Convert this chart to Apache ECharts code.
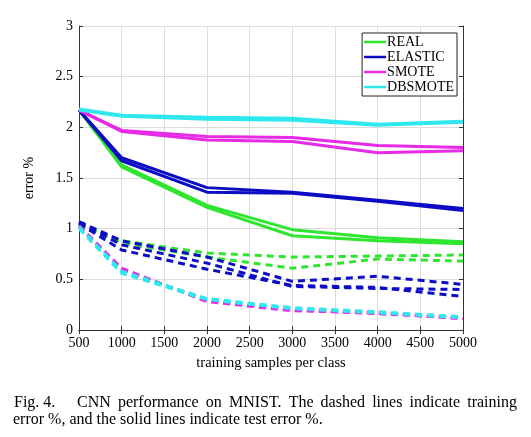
<!DOCTYPE html>
<html>
<head>
<meta charset="utf-8">
<script src="https://cdn.jsdelivr.net/npm/echarts@6/dist/echarts.min.js"></script>
<style>
html,body{margin:0;padding:0;background:#fff;}
#c{width:531px;height:437px;}
</style>
</head>
<body>
<div id="c"></div>
<script>
// x positions (training samples per class)
const samples = [500, 1000, 2000, 3000, 4000, 5000];
const methods = ['REAL', 'ELASTIC', 'SMOTE', 'DBSMOTE'];

// test error % (solid lines), two runs each
const realTestA    = [2.17, 1.63, 1.23, 0.99, 0.91, 0.87];
const realTestB    = [2.17, 1.61, 1.21, 0.93, 0.88, 0.85];
const elasticTestA = [2.17, 1.70, 1.405, 1.36, 1.28, 1.20];
const elasticTestB = [2.17, 1.67, 1.36, 1.35, 1.27, 1.18];
const smoteTestA   = [2.17, 1.97, 1.91, 1.90, 1.82, 1.80];
const smoteTestB   = [2.17, 1.96, 1.875, 1.86, 1.75, 1.77];
const dbsmoteTestA = [2.18, 2.12, 2.10, 2.09, 2.03, 2.06];
const dbsmoteTestB = [2.17, 2.11, 2.08, 2.07, 2.02, 2.05];

// training error % (dashed lines)
const realTrainA    = [1.05, 0.88, 0.76, 0.72, 0.73, 0.74];
const realTrainB    = [1.04, 0.86, 0.72, 0.61, 0.70, 0.68];
const elasticTrainA = [1.07, 0.88, 0.72, 0.48, 0.53, 0.45];
const elasticTrainB = [1.06, 0.84, 0.66, 0.43, 0.41, 0.40];
const elasticTrainC = [1.05, 0.79, 0.60, 0.44, 0.42, 0.33];
const smoteTrainA   = [1.03, 0.61, 0.28, 0.19, 0.17, 0.11];
const smoteTrainB   = [1.02, 0.60, 0.29, 0.20, 0.16, 0.12];
const dbsmoteTrainA = [1.02, 0.58, 0.31, 0.22, 0.18, 0.13];
const dbsmoteTrainB = [1.00, 0.56, 0.30, 0.21, 0.17, 0.12];

const captionLine1Label = 'Fig. 4.';
const captionLine1 = 'CNN performance on MNIST. The dashed lines indicate training';
const captionLine2 = 'error %, and the solid lines indicate test error %.';

const colors = {REAL:'#2ee62e', ELASTIC:'#0c0cc4', SMOTE:'#e62ae6', DBSMOTE:'#2ee8ee'};
const FONT = '"Liberation Serif","Times New Roman",serif';
const CAP_FONT = '16px ' + FONT;

function pairs(vals){ return samples.map((x,i)=>[x, vals[i]]); }
function mk(name, vals, dashed){
  return {
    name: name, type:'line', data: pairs(vals), symbol:'none', silent:true,
    z: dashed ? 2 : 3,
    lineStyle:{color: colors[name], width: 3, type: dashed ? [7,5] : 'solid'},
    itemStyle:{color: colors[name]}
  };
}

const series = [
  mk('REAL', realTestA, false), mk('REAL', realTestB, false),
  mk('ELASTIC', elasticTestA, false), mk('ELASTIC', elasticTestB, false),
  mk('SMOTE', smoteTestA, false), mk('SMOTE', smoteTestB, false),
  mk('DBSMOTE', dbsmoteTestA, false), mk('DBSMOTE', dbsmoteTestB, false),
  mk('REAL', realTrainA, true), mk('REAL', realTrainB, true),
  mk('ELASTIC', elasticTrainA, true), mk('ELASTIC', elasticTrainB, true), mk('ELASTIC', elasticTrainC, true),
  mk('SMOTE', smoteTrainA, true), mk('SMOTE', smoteTrainB, true),
  mk('DBSMOTE', dbsmoteTrainA, true), mk('DBSMOTE', dbsmoteTrainB, true)
];

// justified caption line: spread words between x0 and x1
const mctx = document.createElement('canvas').getContext('2d');
mctx.font = CAP_FONT;
function justified(text, x0, x1, top){
  const words = text.split(' ');
  const widths = words.map(w=>mctx.measureText(w).width);
  const total = widths.reduce((a,b)=>a+b,0);
  const gap = (x1 - x0 - total) / (words.length - 1);
  let x = x0;
  return words.map((w,i)=>{
    const el = {type:'text', x:x, y:top, style:{text:w, font:CAP_FONT, fill:'#000', textVerticalAlign:'top'}};
    x += widths[i] + gap;
    return el;
  });
}

const axisLine = {show:true, lineStyle:{color:'#333', width:1}};
const tick = {show:true, inside:true, length:4, lineStyle:{color:'#333'}};

const chart = echarts.init(document.getElementById('c'), null, {renderer:'canvas'});
chart.setOption({
  animation:false,
  backgroundColor:'#fff',
  grid:{left:79, right:68, top:26, bottom:107, containLabel:false},
  legend:{
    data: methods.map(n=>({name:n, icon:'rect'})),
    orient:'vertical', right:74, top:33,
    itemWidth:22, itemHeight:2.5, itemGap:1,
    backgroundColor:'#fff', borderColor:'#222', borderWidth:1,
    padding:[2,3,2,2],
    textStyle:{fontFamily:FONT, fontSize:14, color:'#000', padding:[0,0,0,-4]},
    selectedMode:false
  },
  xAxis:[
    {type:'value', min:500, max:5000, interval:500,
     name:'training samples per class', nameLocation:'middle', nameGap:26,
     nameTextStyle:{fontFamily:FONT, fontSize:14.5, color:'#000'},
     axisLine:axisLine, axisTick:tick,
     axisLabel:{fontFamily:FONT, fontSize:14, color:'#000', margin:6, formatter:v=>String(v)},
     splitLine:{show:true, lineStyle:{color:'#dcdcdc', width:1}}},
    {type:'value', position:'top', min:500, max:5000, interval:500,
     axisLine:axisLine, axisTick:tick, axisLabel:{show:false}, splitLine:{show:false}}
  ],
  yAxis:[
    {type:'value', min:0, max:3, interval:0.5,
     name:'error %', nameLocation:'middle', nameGap:43, nameRotate:90,
     nameTextStyle:{fontFamily:FONT, fontSize:14, color:'#000'},
     axisLine:axisLine, axisTick:tick,
     axisLabel:{fontFamily:FONT, fontSize:14, color:'#000', margin:6, formatter:v=>String(v)},
     splitLine:{show:true, lineStyle:{color:'#dcdcdc', width:1}}},
    {type:'value', position:'right', min:0, max:3, interval:0.5,
     axisLine:axisLine, axisTick:tick, axisLabel:{show:false}, splitLine:{show:false}}
  ],
  series: series,
  graphic: [
    {type:'text', x:14, y:395, style:{text:captionLine1Label, font:CAP_FONT, fill:'#000', textVerticalAlign:'top'}}
  ].concat(justified(captionLine1, 77, 517, 395)).concat([
    {type:'text', x:13, y:412, style:{text:captionLine2, font:CAP_FONT, fill:'#000', textVerticalAlign:'top'}}
  ])
});
</script>
</body>
</html>
